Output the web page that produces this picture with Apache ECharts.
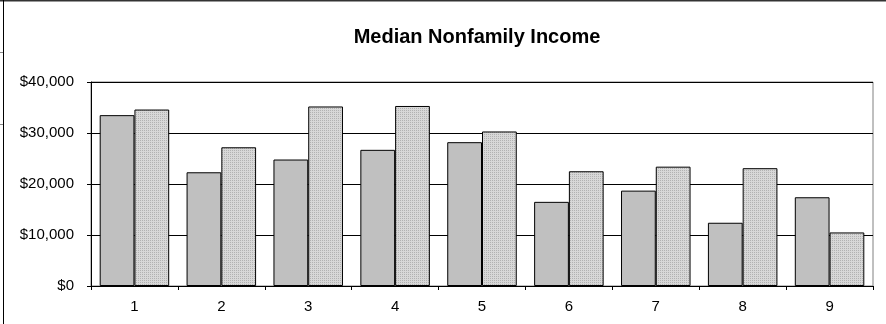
<!DOCTYPE html>
<html>
<head>
<meta charset="utf-8">
<script src="https://cdn.jsdelivr.net/npm/echarts@6/dist/echarts.min.js"></script>
<style>
html,body{margin:0;padding:0;background:#fff;}
#c{width:886px;height:324px;}
</style>
</head>
<body>
<div id="c"></div>
<script>
var titleText = 'Median Nonfamily Income';
var categories = ['1','2','3','4','5','6','7','8','9'];
var seriesA = [33500, 22300, 24800, 26700, 28200, 16500, 18700, 12400, 17400];
var seriesB = [34600, 27200, 35200, 35300, 30300, 22500, 23400, 23100, 10500];
var yTicks = [0, 10000, 20000, 30000, 40000];

function makePattern() {
  var cv = document.createElement('canvas');
  cv.width = 2; cv.height = 2;
  var ctx = cv.getContext('2d');
  ctx.fillStyle = '#D8D8D8'; ctx.fillRect(0,0,2,2);
  ctx.fillStyle = '#B2B2B2';
  ctx.fillRect(0,0,1,1);
  return cv;
}

var chart = echarts.init(document.getElementById('c'), null, {renderer:'canvas'});
var font = '"Liberation Sans", Arial, sans-serif';
chart.setOption({
  animation: false,
  backgroundColor: '#ffffff',
  title: {
    text: titleText, left: 472, top: 22, textAlign: 'center',
    textStyle: {fontFamily: font, fontSize: 20, fontWeight: 'bold', color: '#000'}
  },
  grid: {left: 91, right: 13, top: 82, bottom: 38, show: true, borderColor: '#808080', borderWidth: 1},
  xAxis: {
    type: 'category', data: categories,
    axisLine: {lineStyle: {color: '#000', width: 1}},
    axisTick: {show: true, length: 4, lineStyle: {color: '#000'}},
    axisLabel: {fontFamily: font, fontSize: 15, color: '#000', margin: 13}
  },
  yAxis: {
    type: 'value', min: yTicks[0], max: yTicks[yTicks.length-1], interval: yTicks[1]-yTicks[0],
    axisLine: {show: true, lineStyle: {color: '#000', width: 1}},
    axisTick: {show: true, length: 4, lineStyle: {color: '#000'}},
    splitLine: {show: true, lineStyle: {color: '#000', width: 1}},
    axisLabel: {
      fontFamily: font, fontSize: 15, color: '#000', margin: 17,
      formatter: function(v){ return '$' + v.toLocaleString('en-US'); }
    }
  },
  series: [
    {type: 'bar', data: seriesA, barGap: '0%', barCategoryGap: '20%',
     itemStyle: {color: '#C0C0C0', borderColor: '#000', borderWidth: 1}},
    {type: 'bar', data: seriesB, barGap: '0%', barCategoryGap: '20%',
     itemStyle: {color: {image: makePattern(), repeat: 'repeat'}, borderColor: '#000', borderWidth: 1}}
  ],
  graphic: [
    {type: 'line', shape: {x1: 0, y1: 0.5, x2: 886, y2: 0.5}, style: {stroke: '#333', lineWidth: 2}, z: 100},
    {type: 'line', shape: {x1: 3.5, y1: 0, x2: 3.5, y2: 324}, style: {stroke: '#000', lineWidth: 1}, z: 100},
    {type: 'line', shape: {x1: 0, y1: 52.5, x2: 3, y2: 52.5}, style: {stroke: '#888', lineWidth: 1}, z: 100},
    {type: 'line', shape: {x1: 0, y1: 124.5, x2: 3, y2: 124.5}, style: {stroke: '#888', lineWidth: 1}, z: 100}
  ]
});
</script>
</body>
</html>
